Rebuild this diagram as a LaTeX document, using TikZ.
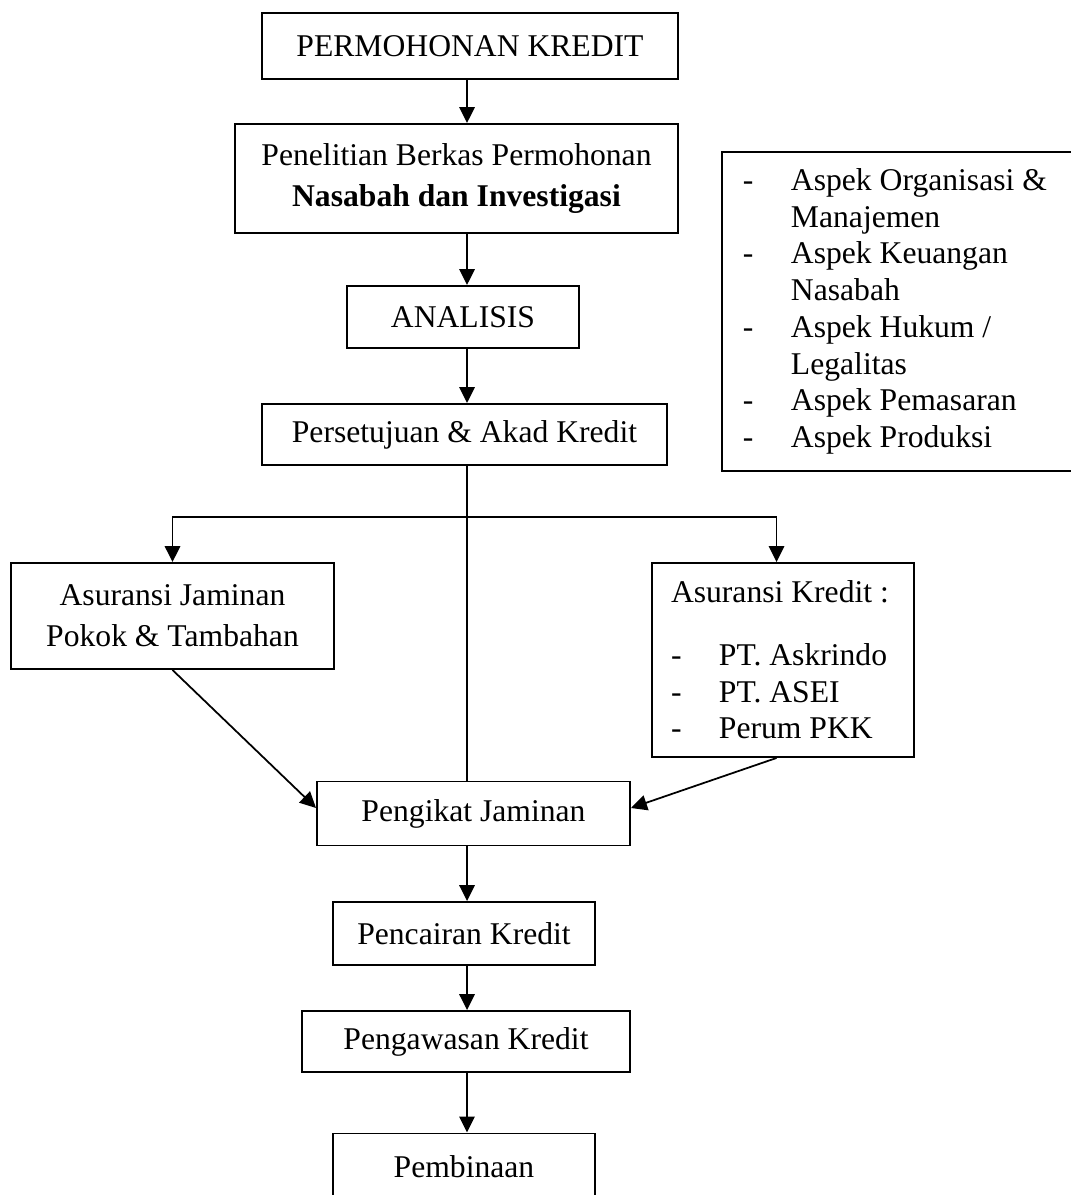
\documentclass[tikz,border=0pt]{standalone}
\usepackage{fontspec}
\setmainfont{Liberation Serif}
\usetikzlibrary{arrows.meta}
\newcommand{\dsh}{\makebox[0.96cm][l]{-}}
\newcommand{\nodsh}{\hspace*{0.96cm}}

\begin{document}
\begin{tikzpicture}[
  box/.style={draw, line width=1.1pt, inner sep=0pt, align=center, font=\fontsize{18}{20.9}\selectfont},
  twoline/.style={font=\fontsize{18}{23.2}\selectfont},
  lst/.style={draw, line width=1.1pt, inner ysep=0pt, align=flush left, font=\fontsize{18}{20.9}\selectfont},
  arr/.style={line width=1pt, -{Triangle[length=0.32cm,width=0.31cm]}}
]
\useasboundingbox (0,0) rectangle (21.42,-23.90);
\coordinate (spine) at (9.34,0);
\coordinate (split) at (9.34,-10.34);

\node[box, minimum width=8.32cm, minimum height=1.32cm] (perm) at (9.40,-0.92) {PERMOHONAN KREDIT};
\node[box, twoline, minimum width=8.86cm, minimum height=2.18cm] (pen) at (9.13,-3.57) {Penelitian Berkas Permohonan\\ \textbf{Nasabah dan Investigasi}};
\node[box, minimum width=4.64cm, minimum height=1.24cm] (anal) at (9.26,-6.34) {ANALISIS};
\node[box, minimum width=8.10cm, minimum height=1.22cm] (pers) at (9.29,-8.69) {Persetujuan \& Akad Kredit};
\node[lst, anchor=north west, inner xsep=0.42cm, text width=6.54cm, minimum height=6.38cm] (aspek) at (14.42,-3.02) {\dsh Aspek Organisasi \&\\ \nodsh Manajemen\\ \dsh Aspek Keuangan\\ \nodsh Nasabah\\ \dsh Aspek Hukum /\\ \nodsh Legalitas\\ \dsh Aspek Pemasaran\\ \dsh Aspek Produksi};

\node[box, twoline, minimum width=6.46cm, minimum height=2.12cm] (ajam) at (3.45,-12.32) {Asuransi Jaminan\\ Pokok \& Tambahan};
\node[lst, inner xsep=0.38cm, text width=4.48cm, minimum height=3.88cm] (akre) at (15.66,-13.20) {Asuransi Kredit :\\[14.6pt] \dsh PT. Askrindo\\ \dsh PT. ASEI\\ \dsh Perum PKK};

\node[box, minimum width=6.26cm, minimum height=1.28cm] (ikat) at (9.47,-16.27) {Pengikat Jaminan};
\node[box, minimum width=5.24cm, minimum height=1.26cm] (cair) at (9.28,-18.67) {Pencairan Kredit};
\node[box, minimum width=6.56cm, minimum height=1.22cm] (awas) at (9.32,-20.83) {Pengawasan Kredit};
\node[box, anchor=north, minimum width=5.24cm, minimum height=1.32cm] (bina) at (9.28,-22.65) {Pembinaan};

\draw[arr] (perm.south -| spine) -- (pen.north -| spine);
\draw[arr] (pen.south -| spine) -- (anal.north -| spine);
\draw[arr] (anal.south -| spine) -- (pers.north -| spine);
\draw[line width=1pt] (pers.south -| spine) -- (ikat.north -| spine);
\draw[arr] (split) -| (ajam.north);
\draw[arr] (split) -| ([xshift=-1.3mm]akre.north);
\draw[arr] (ajam.south) -- ([yshift=1.1mm]ikat.west);
\draw[arr] ([xshift=-1.3mm]akre.south) -- ([yshift=1.1mm]ikat.east);
\draw[arr] (ikat.south -| spine) -- (cair.north -| spine);
\draw[arr] (cair.south -| spine) -- (awas.north -| spine);
\draw[arr] (awas.south -| spine) -- (bina.north -| spine);
\end{tikzpicture}
\end{document}
